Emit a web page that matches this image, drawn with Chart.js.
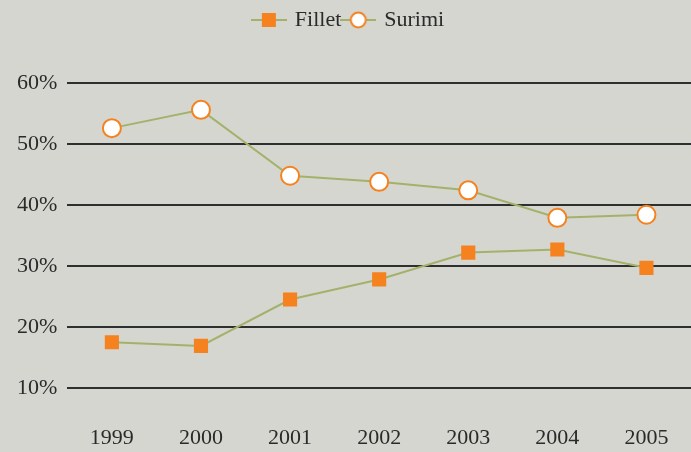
<!DOCTYPE html>
<html>
<head>
<meta charset="utf-8">
<script src="https://cdn.jsdelivr.net/npm/chart.js@4/dist/chart.umd.min.js"></script>
<style>
  html, body { margin: 0; padding: 0; background: #d6d6d1; }
  #wrap { width: 691px; height: 452px; }
</style>
</head>
<body>
<div id="wrap"><canvas id="myChart" width="691" height="452"></canvas></div>
<script>
// categories (years)
let years = ['1999', '2000', '2001', '2002', '2003', '2004', '2005'];
// share values in %
let fillet = [17.5, 16.9, 24.5, 27.8, 32.2, 32.7, 29.7];
let surimi = [52.6, 55.6, 44.8, 43.8, 42.4, 37.9, 38.4];
// y tick labels
let yTicks = [10, 20, 30, 40, 50, 60];

let lineColor = '#a3b26a';
let orange = '#f5821f';

// small legend icon: line with the marker in the middle
function legendIcon(kind) {
    let c = document.createElement('canvas');
    c.width = 36;
    c.height = 20;
    let ctx = c.getContext('2d');
    ctx.strokeStyle = lineColor;
    ctx.lineWidth = 2;
    ctx.beginPath();
    ctx.moveTo(0, 10);
    ctx.lineTo(36, 10);
    ctx.stroke();
    if (kind === 'rect') {
        ctx.fillStyle = orange;
        ctx.fillRect(11, 3, 14, 14);
    } else {
        ctx.beginPath();
        ctx.arc(18, 10, 7.5, 0, Math.PI * 2);
        ctx.fillStyle = '#ffffff';
        ctx.fill();
        ctx.lineWidth = 2;
        ctx.strokeStyle = orange;
        ctx.stroke();
    }
    return c;
}
let icons = [legendIcon('rect'), legendIcon('circle')];

let serif = "'Liberation Serif', 'DejaVu Serif', serif";

// extra room below the legend
let legendGap = {
    id: 'legendGap',
    beforeInit: function (chart) {
        let fit = chart.legend.fit;
        chart.legend.fit = function () {
            fit.bind(chart.legend)();
            this.height += 42;
        };
    }
};

let ctx1 = document.getElementById('myChart').getContext('2d');
let mychart = new Chart(ctx1, {
    type: 'line',
    data: {
        labels: years,
        datasets: [{
            label: 'Fillet',
            data: fillet,
            borderColor: lineColor,
            borderWidth: 2,
            pointStyle: 'rect',
            pointRadius: 10,
            pointBackgroundColor: orange,
            pointBorderColor: orange,
            pointBorderWidth: 0,
            tension: 0
        }, {
            label: 'Surimi',
            data: surimi,
            borderColor: lineColor,
            borderWidth: 2,
            pointStyle: 'circle',
            pointRadius: 9,
            pointBackgroundColor: '#ffffff',
            pointBorderColor: orange,
            pointBorderWidth: 2,
            tension: 0
        }]
    },
    plugins: [legendGap],
    options: {
        responsive: false,
        animation: false,
        layout: {
            autoPadding: false,
            padding: { top: 7, left: 7, right: 0, bottom: 0 }
        },
        plugins: {
            tooltip: { enabled: false },
            legend: {
                position: 'top',
                labels: {
                    usePointStyle: true,
                    pointStyleWidth: 30,
                    padding: 2,
                    color: '#2a2a2a',
                    font: { family: serif, size: 22 },
                    generateLabels: function (chart) {
                        return chart.data.datasets.map(function (ds, i) {
                            return {
                                text: ds.label,
                                pointStyle: icons[i],
                                fillStyle: orange,
                                strokeStyle: orange,
                                lineWidth: 0,
                                fontColor: '#2a2a2a',
                                datasetIndex: i
                            };
                        });
                    }
                }
            }
        },
        scales: {
            x: {
                offset: true,
                grid: { display: false, drawTicks: false },
                border: { display: false },
                ticks: {
                    color: '#2a2a2a',
                    padding: 37,
                    font: { family: serif, size: 22 }
                },
                afterFit: function (axis) {
                    axis.paddingLeft = 0;
                    axis.paddingRight = 0;
                    axis.height = 64;
                }
            },
            y: {
                min: 10,
                max: 60,
                afterBuildTicks: function (axis) {
                    axis.ticks = yTicks.map(function (v) { return { value: v }; });
                },
                grid: {
                    color: '#2f2f2f',
                    lineWidth: 2,
                    drawTicks: false
                },
                border: { display: false },
                ticks: {
                    color: '#2a2a2a',
                    padding: 10,
                    font: { family: serif, size: 22 },
                    callback: function (v) { return v + '%'; }
                }
            }
        }
    }
});
</script>
</body>
</html>
